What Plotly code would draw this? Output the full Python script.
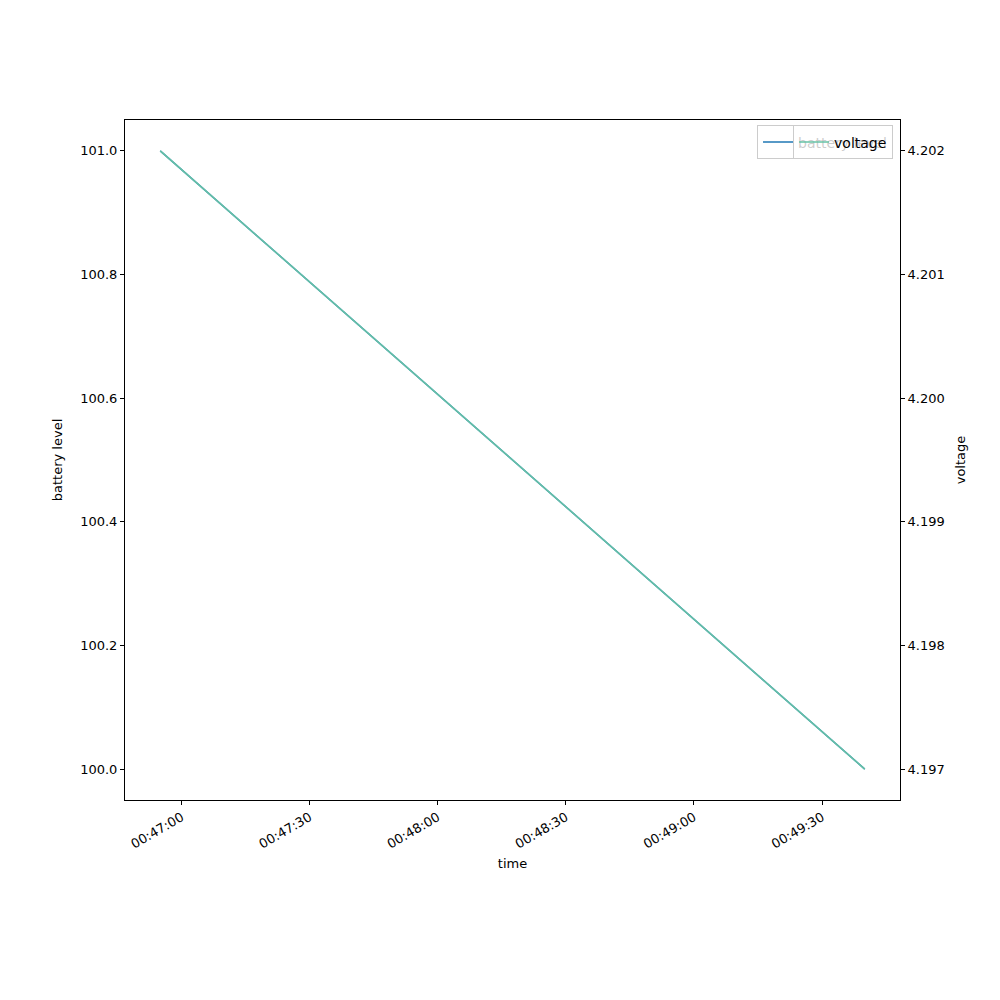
import plotly.graph_objects as go

# readings (start and end of the log)
times = ['2024-01-01 00:46:55', '2024-01-01 00:49:40']
battery_level = [101.0, 100.0]
voltage = [4.202, 4.197]

font_family = 'DejaVu Sans'

fig = go.Figure()

fig.add_trace(go.Scatter(
    x=times, y=battery_level, mode='lines', name='battery level',
    line=dict(color='#1f77b4', width=1.5), legend='legend'
))
fig.add_trace(go.Scatter(
    x=times, y=voltage, mode='lines', name='voltage', yaxis='y2',
    line=dict(color='#66c2a5', width=1.5), legend='legend2'
))

axis_common = dict(
    showline=True, linecolor='black', linewidth=1,
    ticks='outside', ticklen=4, tickcolor='black', showgrid=False,
    zeroline=False, tickfont=dict(size=13, color='black'),
)

# page body has an 8px margin, so the margins are shifted to compensate
fig.update_layout(
    width=1000, height=1000,
    margin=dict(l=117, r=108, t=112, b=208),
    paper_bgcolor='white', plot_bgcolor='white',
    font=dict(family=font_family, size=13, color='black'),
    showlegend=True,
    xaxis=dict(
        **axis_common, mirror=True,
        range=['2024-01-01 00:46:46.75', '2024-01-01 00:49:48.25'],
        tickformat='%H:%M:%S', dtick=30000, tick0='2024-01-01 00:47:00',
        tickangle=-30,
        title=dict(text='time', font=dict(size=13), standoff=8),
    ),
    yaxis=dict(
        **axis_common,
        range=[99.95, 101.05], dtick=0.2, tickformat='.1f',
        title=dict(text='battery level', font=dict(size=13), standoff=14),
    ),
    yaxis2=dict(
        **axis_common, overlaying='y', side='right',
        range=[4.19675, 4.20225], dtick=0.001, tickformat='.3f',
        title=dict(text='voltage', font=dict(size=13), standoff=12),
    ),
    # two separate legends stacked in the same corner, like twin-axes legends
    legend=dict(
        x=0.991, y=0.992, xanchor='right', yanchor='top',
        bgcolor='rgba(255,255,255,0.8)', bordercolor='#cccccc', borderwidth=1,
        font=dict(size=14), itemwidth=30, visible=True,
    ),
    legend2=dict(
        x=0.991, y=0.992, xanchor='right', yanchor='top',
        bgcolor='rgba(255,255,255,0.8)', bordercolor='#cccccc', borderwidth=1,
        font=dict(size=14), itemwidth=30, visible=True,
    ),
)

fig.write_html('out.html')
